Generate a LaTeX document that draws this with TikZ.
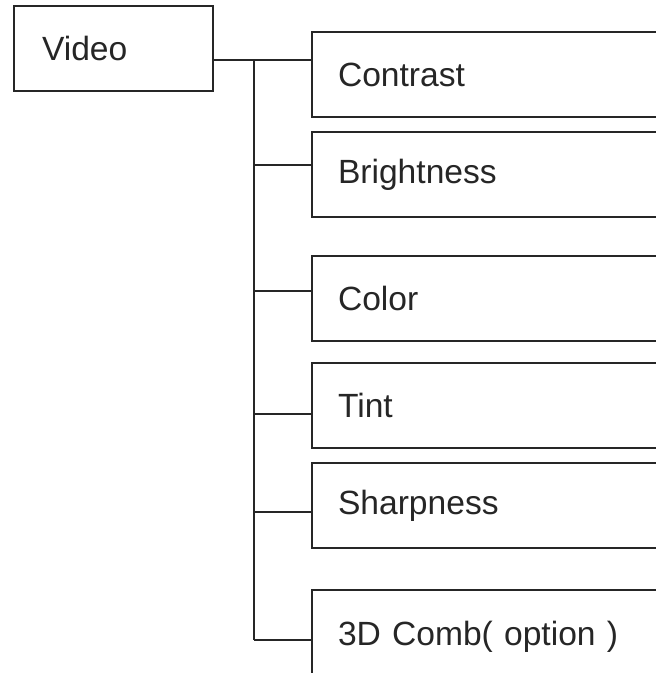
\documentclass[tikz,border=0pt]{standalone}
\usepackage{fontspec}
\setmainfont{Liberation Sans}
\usepackage{xcolor}
\usepackage{tikz}
\usetikzlibrary{positioning}

\begin{document}
\begin{tikzpicture}[
    head/.style={rectangle, draw=black!85, line width=1pt, minimum width=99.5pt, minimum height=42.5pt, inner xsep=14pt, text width=71.5pt, align=left, font=\fontsize{16.8}{20}\selectfont, text=black!85},
    item/.style={rectangle, draw=black!85, line width=1pt, minimum width=190pt, minimum height=42.5pt, inner xsep=13pt, text width=164pt, align=left, font=\fontsize{16.8}{20}\selectfont, text=black!85},
    link/.style={draw=black!85, line width=1pt}
]
\clip (0,0) rectangle (328pt,-336.5pt);

% Nodes
\node[head, anchor=north west] (video) at (6.5pt,-2.5pt) {Video};
\node[item, anchor=north west] (contrast) at (155.5pt,-15.5pt) {Contrast};
\node[item, below=6.5pt of contrast] (brightness) {Brightness};
\node[item, below=18.5pt of brightness] (color) {Color};
\node[item, below=10pt of color] (tint) {Tint};
\node[item, below=6.5pt of tint] (sharpness) {Sharpness};
\node[item, below=20pt of sharpness, minimum height=47pt] (comb) {3D Comb( option )};

% Connections
\coordinate (top) at ([yshift=-5.75pt]video.east);
\coordinate (trunk) at ([xshift=20pt]top);
\draw[link] (top) -- (top -| contrast.west);
\foreach \n/\dy in {brightness/4.75pt, color/3.75pt, tint/-4.25pt, sharpness/-3.25pt, comb/-1.5pt}{
    \coordinate (\n-in) at ([yshift=\dy]\n.west);
    \draw[link] (\n-in) -- (trunk |- \n-in);
}
\draw[link] (trunk) -- (trunk |- comb-in);

\end{tikzpicture}
\end{document}
